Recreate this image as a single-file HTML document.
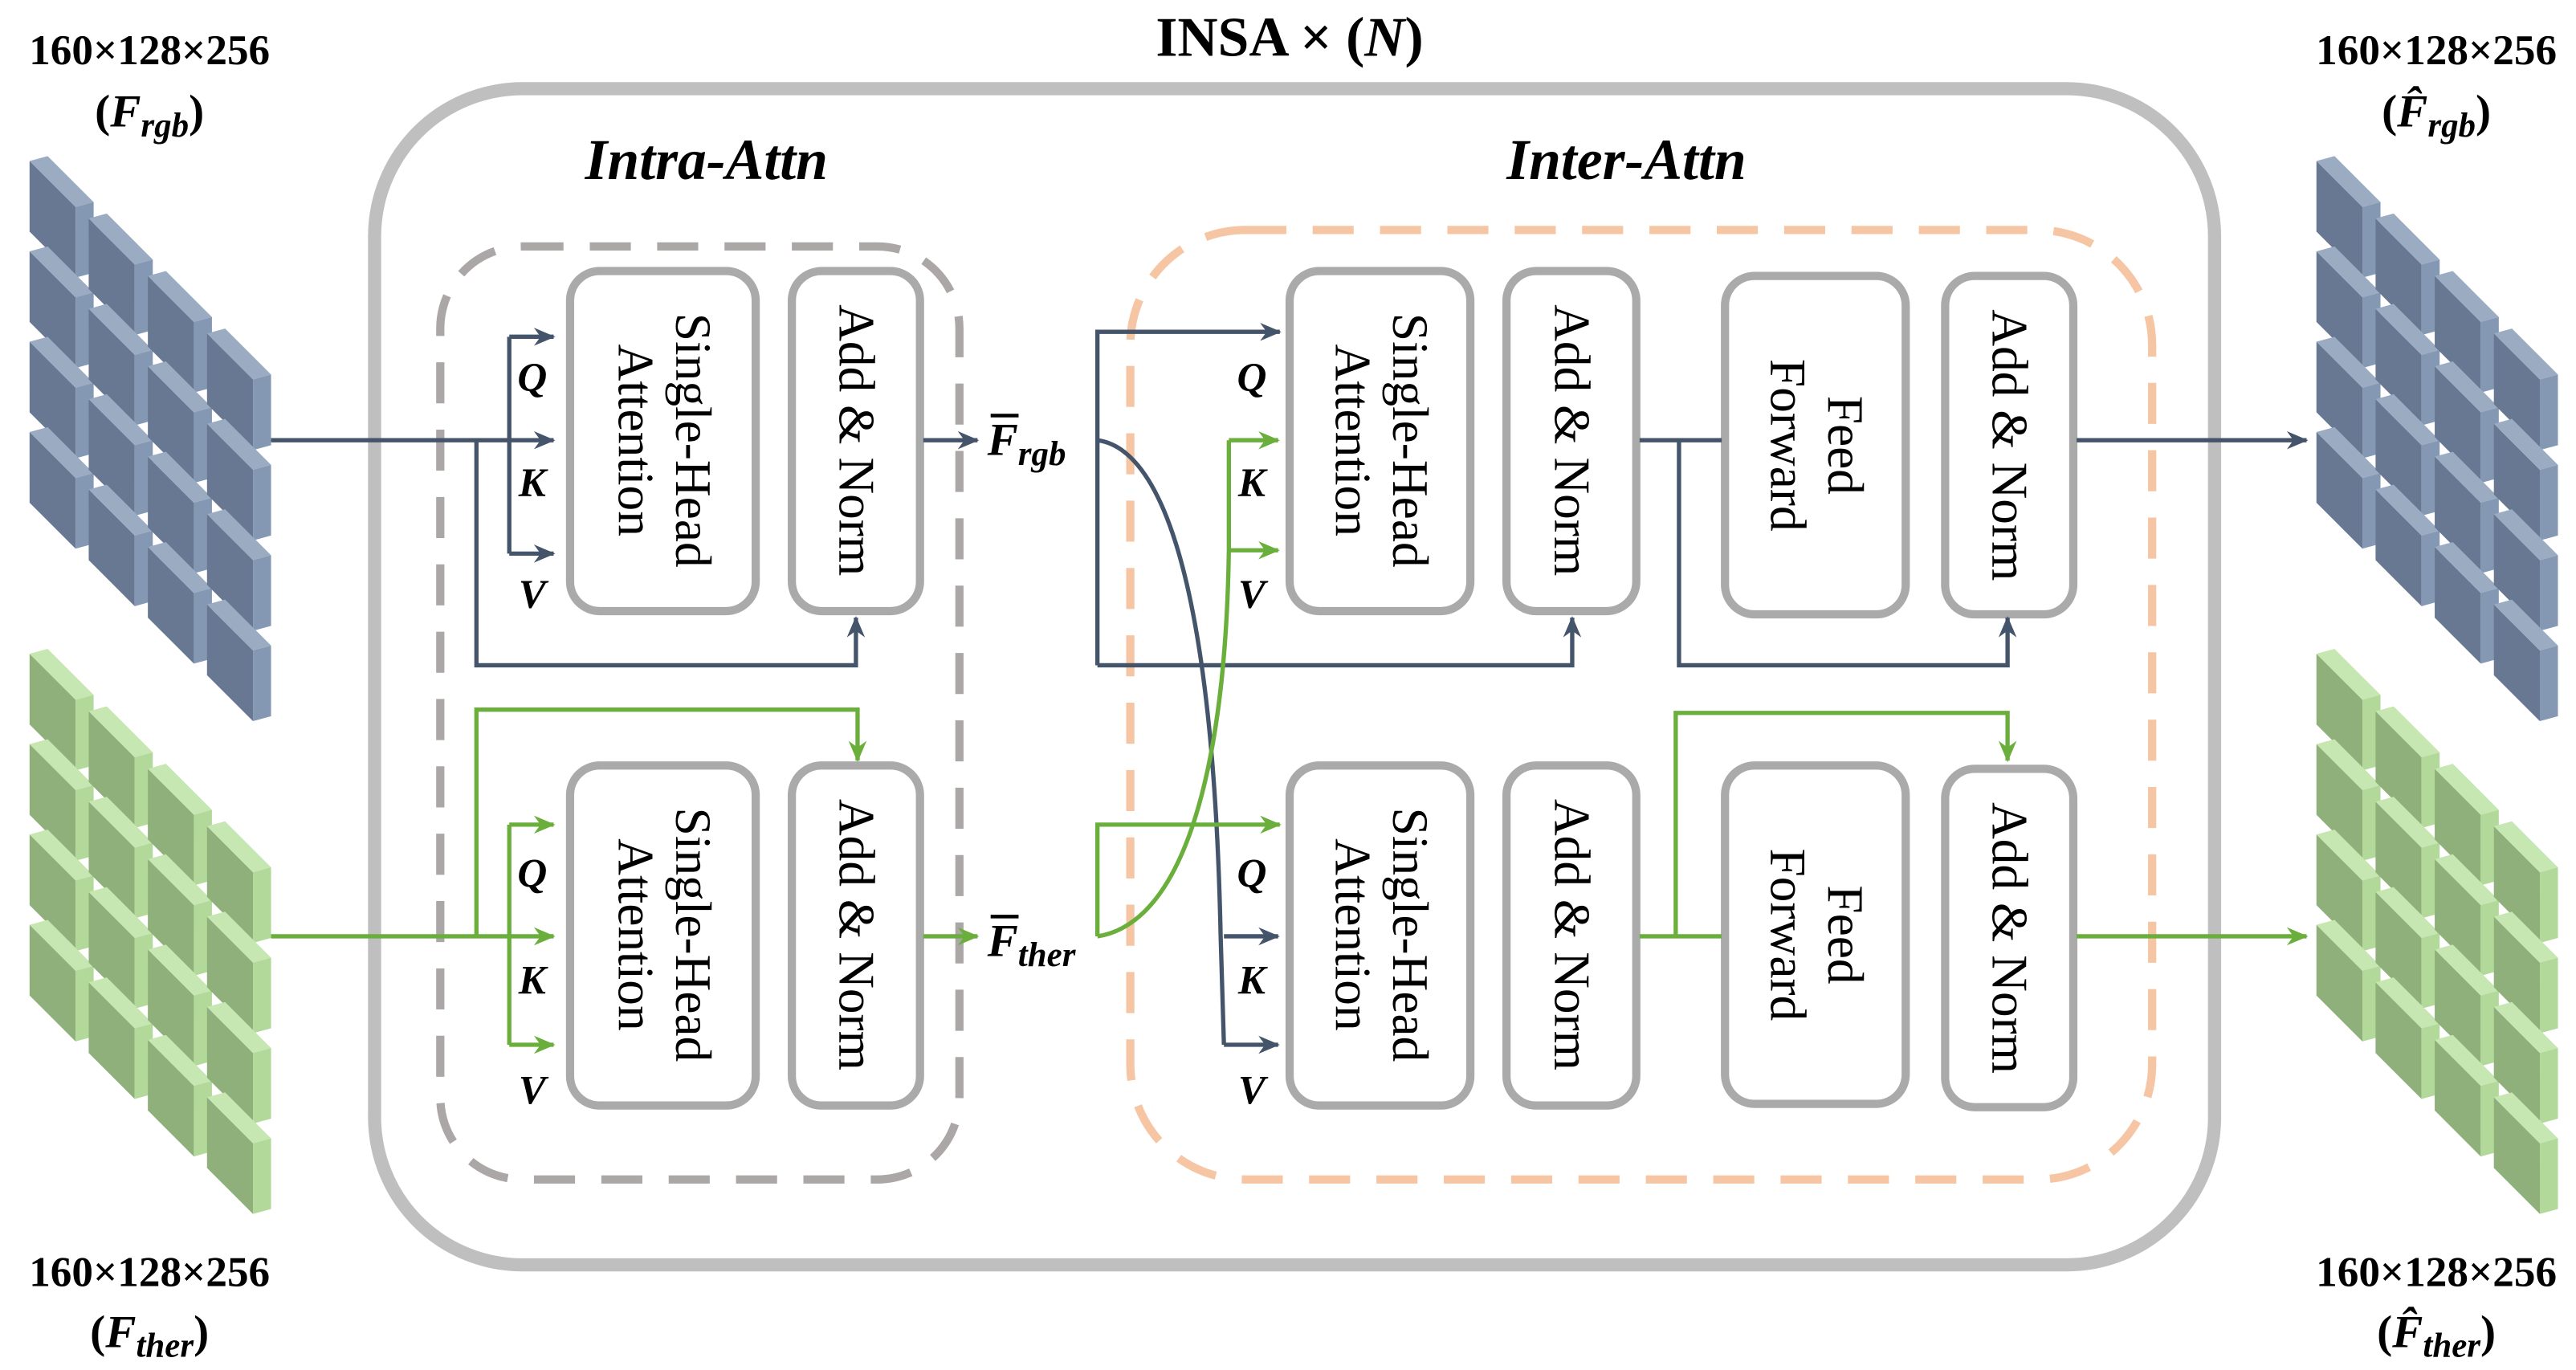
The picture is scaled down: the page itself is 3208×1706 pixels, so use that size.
<!DOCTYPE html>
<html><head><meta charset="utf-8"><style>
html,body{margin:0;padding:0;background:#fff;}
svg{display:block;}
text{font-family:"Liberation Serif",serif;}
</style></head><body>
<svg width="3208" height="1706" viewBox="0 0 1568 834" preserveAspectRatio="none" xmlns="http://www.w3.org/2000/svg">
<defs>
<marker id="ab" markerWidth="14" markerHeight="12" refX="12" refY="6" orient="auto" markerUnits="userSpaceOnUse"><path d="M0,0.5 L13,6 L0,11.5 L4,6 z" fill="#44546a"/></marker>
<marker id="ag" markerWidth="14" markerHeight="12" refX="12" refY="6" orient="auto" markerUnits="userSpaceOnUse"><path d="M0,0.5 L13,6 L0,11.5 L4,6 z" fill="#6aae3c"/></marker>
<g id="bb"><polygon points="0,3 28,31 28,74 0,46" fill="#687892"/><polygon points="0,3 11,0 39,28 28,31" fill="#9aabc2"/><polygon points="28,31 39,28 39,71 28,74" fill="#8598b3"/></g>
<g id="bg"><polygon points="0,3 28,31 28,74 0,46" fill="#8fb07a"/><polygon points="0,3 11,0 39,28 28,31" fill="#c6e6b2"/><polygon points="28,31 39,28 39,71 28,74" fill="#b2d99a"/></g>
<g id="gb">
<use href="#bb" x="18" y="95"/><use href="#bb" x="18" y="150"/><use href="#bb" x="18" y="205"/><use href="#bb" x="18" y="260"/>
<use href="#bb" x="54" y="130"/><use href="#bb" x="54" y="185"/><use href="#bb" x="54" y="240"/><use href="#bb" x="54" y="295"/>
<use href="#bb" x="90" y="165"/><use href="#bb" x="90" y="220"/><use href="#bb" x="90" y="275"/><use href="#bb" x="90" y="330"/>
<use href="#bb" x="126" y="200"/><use href="#bb" x="126" y="255"/><use href="#bb" x="126" y="310"/><use href="#bb" x="126" y="365"/>
</g>
<g id="gg">
<use href="#bg" x="18" y="95"/><use href="#bg" x="18" y="150"/><use href="#bg" x="18" y="205"/><use href="#bg" x="18" y="260"/>
<use href="#bg" x="54" y="130"/><use href="#bg" x="54" y="185"/><use href="#bg" x="54" y="240"/><use href="#bg" x="54" y="295"/>
<use href="#bg" x="90" y="165"/><use href="#bg" x="90" y="220"/><use href="#bg" x="90" y="275"/><use href="#bg" x="90" y="330"/>
<use href="#bg" x="126" y="200"/><use href="#bg" x="126" y="255"/><use href="#bg" x="126" y="310"/><use href="#bg" x="126" y="365"/>
</g>
</defs>

<use href="#gb"/>
<use href="#gg" y="300"/>
<use href="#gb" x="1392"/>
<use href="#gg" x="1392" y="300"/>

<rect x="228" y="54" width="1120" height="716" rx="90" fill="none" stroke="#bfbfbf" stroke-width="8"/>
<rect x="268" y="150" width="316" height="568" rx="50" fill="none" stroke="#aca7a7" stroke-width="5" stroke-dasharray="25,16"/>
<rect x="688" y="140" width="622" height="578" rx="70" fill="none" stroke="#f6c6a4" stroke-width="5" stroke-dasharray="25,16"/>

<text x="785" y="34" font-size="34" font-weight="bold" text-anchor="middle">INSA × (<tspan font-style="italic">N</tspan>)</text>
<text x="430" y="109" font-size="35" font-weight="bold" font-style="italic" text-anchor="middle">Intra-Attn</text>
<text x="990" y="109" font-size="35" font-weight="bold" font-style="italic" text-anchor="middle">Inter-Attn</text>

<g font-size="26" font-weight="bold" text-anchor="middle">
<text x="91" y="39">160×128×256</text>
<text x="91" y="77" font-size="28">(<tspan font-style="italic">F</tspan><tspan font-style="italic" font-size="21" dy="6">rgb</tspan><tspan dy="-6">)</tspan></text>
<text x="91" y="783">160×128×256</text>
<text x="91" y="820" font-size="28">(<tspan font-style="italic">F</tspan><tspan font-style="italic" font-size="21" dy="6">ther</tspan><tspan dy="-6">)</tspan></text>
<text x="1483" y="39">160×128×256</text>
<text x="1483" y="77" font-size="28">(<tspan font-style="italic">F̂</tspan><tspan font-style="italic" font-size="21" dy="6">rgb</tspan><tspan dy="-6">)</tspan></text>
<text x="1483" y="783">160×128×256</text>
<text x="1483" y="820" font-size="28">(<tspan font-style="italic">F̂</tspan><tspan font-style="italic" font-size="21" dy="6">ther</tspan><tspan dy="-6">)</tspan></text>
</g>

<g fill="#fff" stroke="#aaaaaa" stroke-width="5">
<rect x="347" y="165" width="113" height="207" rx="18"/>
<rect x="482" y="165" width="78" height="207" rx="18"/>
<rect x="347" y="466" width="113" height="207" rx="18"/>
<rect x="482" y="466" width="78" height="207" rx="18"/>
<rect x="785" y="165" width="110" height="207" rx="18"/>
<rect x="917" y="165" width="79" height="207" rx="18"/>
<rect x="1050" y="168" width="110" height="206" rx="18"/>
<rect x="1184" y="168" width="78" height="206" rx="18"/>
<rect x="785" y="466" width="110" height="207" rx="18"/>
<rect x="917" y="466" width="79" height="207" rx="18"/>
<rect x="1050" y="466" width="110" height="206" rx="18"/>
<rect x="1184" y="468" width="78" height="206" rx="18"/>
</g>
<g font-size="31" text-anchor="middle">
<text transform="translate(403.5,268) rotate(90)"><tspan x="0" y="-8">Single-Head</tspan><tspan x="0" y="27">Attention</tspan></text>
<text transform="translate(521,268) rotate(90)"><tspan x="0" y="10">Add &amp; Norm</tspan></text>
<text transform="translate(403.5,569) rotate(90)"><tspan x="0" y="-8">Single-Head</tspan><tspan x="0" y="27">Attention</tspan></text>
<text transform="translate(521,569) rotate(90)"><tspan x="0" y="10">Add &amp; Norm</tspan></text>
<text transform="translate(840,268) rotate(90)"><tspan x="0" y="-8">Single-Head</tspan><tspan x="0" y="27">Attention</tspan></text>
<text transform="translate(956.5,268) rotate(90)"><tspan x="0" y="10">Add &amp; Norm</tspan></text>
<text transform="translate(1105,271) rotate(90)"><tspan x="0" y="-8">Feed</tspan><tspan x="0" y="27">Forward</tspan></text>
<text transform="translate(1223,271) rotate(90)"><tspan x="0" y="10">Add &amp; Norm</tspan></text>
<text transform="translate(840,569) rotate(90)"><tspan x="0" y="-8">Single-Head</tspan><tspan x="0" y="27">Attention</tspan></text>
<text transform="translate(956.5,569) rotate(90)"><tspan x="0" y="10">Add &amp; Norm</tspan></text>
<text transform="translate(1105,569) rotate(90)"><tspan x="0" y="-8">Feed</tspan><tspan x="0" y="27">Forward</tspan></text>
<text transform="translate(1223,571) rotate(90)"><tspan x="0" y="10">Add &amp; Norm</tspan></text>
</g>

<g fill="none" stroke="#44546a" stroke-width="2.6">
<path d="M165,268 H337" marker-end="url(#ab)"/>
<path d="M310,205 V337"/>
<path d="M310,205 H337" marker-end="url(#ab)"/>
<path d="M310,337 H337" marker-end="url(#ab)"/>
<path d="M290,268 V405 H521 V376" marker-end="url(#ab)"/>
<path d="M562,268 H595" marker-end="url(#ab)"/>
<path d="M668,405 V202 H779" marker-end="url(#ab)"/>
<path d="M668,405 H957 V376" marker-end="url(#ab)"/>
<path d="M668,268 C700,272 738,330 743,570 L745,636"/>
<path d="M745,570 H778" marker-end="url(#ab)"/>
<path d="M745,636 H778" marker-end="url(#ab)"/>
<path d="M998,268 H1048"/>
<path d="M1022,268 V405 H1222 V376" marker-end="url(#ab)"/>
<path d="M1264,268 H1404" marker-end="url(#ab)"/>
</g>
<g fill="none" stroke="#6aae3c" stroke-width="2.6">
<path d="M165,570 H337" marker-end="url(#ag)"/>
<path d="M310,502 V636"/>
<path d="M310,502 H337" marker-end="url(#ag)"/>
<path d="M310,636 H337" marker-end="url(#ag)"/>
<path d="M290,570 V432 H522 V463" marker-end="url(#ag)"/>
<path d="M562,570 H595" marker-end="url(#ag)"/>
<path d="M668,570 V502 H779" marker-end="url(#ag)"/>
<path d="M668,570 C720,562 746,470 748,335 V268"/>
<path d="M748,268 H778" marker-end="url(#ag)"/>
<path d="M748,335 H778" marker-end="url(#ag)"/>
<path d="M998,570 H1048"/>
<path d="M1020,570 V434 H1222 V463" marker-end="url(#ag)"/>
<path d="M1264,570 H1404" marker-end="url(#ag)"/>
</g>

<g font-size="25" font-weight="bold" font-style="italic" text-anchor="middle">
<text x="324" y="238">Q</text><text x="324" y="302">K</text><text x="324" y="370">V</text>
<text x="324" y="540">Q</text><text x="324" y="605">K</text><text x="324" y="672">V</text>
<text x="762" y="238">Q</text><text x="762" y="302">K</text><text x="762" y="370">V</text>
<text x="762" y="540">Q</text><text x="762" y="605">K</text><text x="762" y="672">V</text>
</g>
<g font-weight="bold" font-style="italic">
<text x="601" y="277" font-size="28">F<tspan font-size="21" dy="6">rgb</tspan></text>
<line x1="603" y1="253" x2="620" y2="253" stroke="#000" stroke-width="2.2"/>
<text x="601" y="582" font-size="28">F<tspan font-size="21" dy="6">ther</tspan></text>
<line x1="603" y1="558" x2="620" y2="558" stroke="#000" stroke-width="2.2"/>
</g>
</svg>
</body></html>
